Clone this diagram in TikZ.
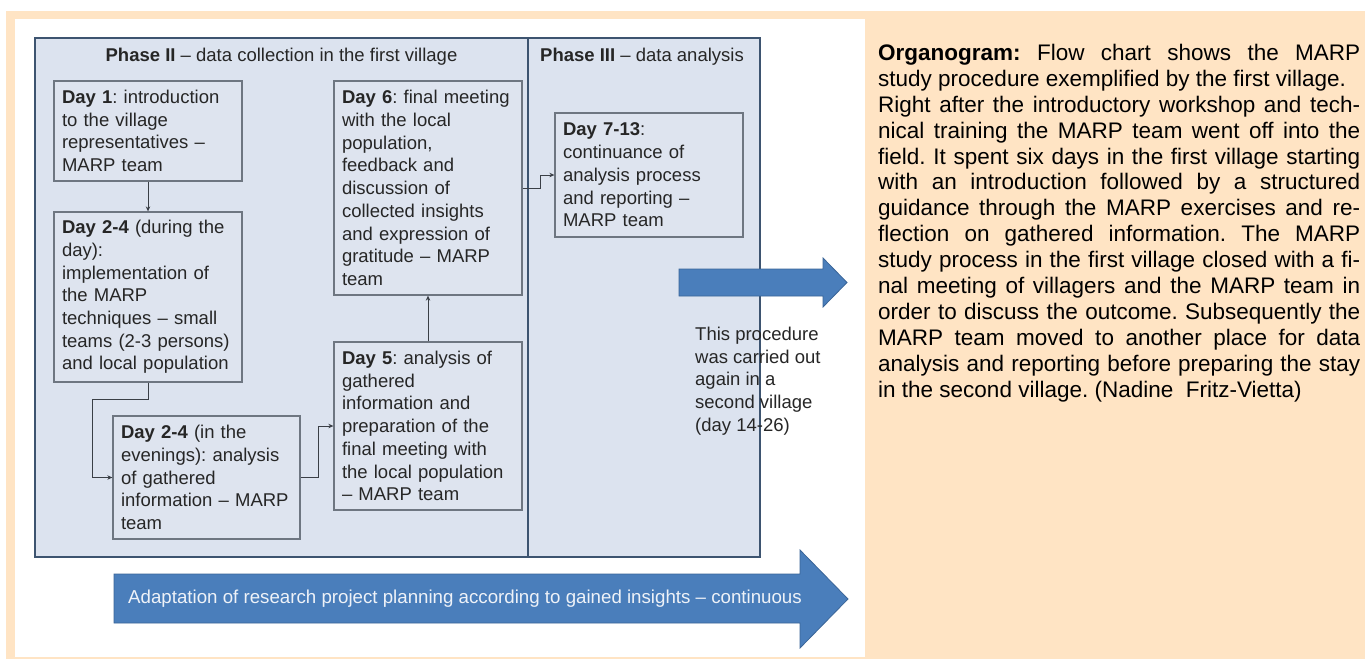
\documentclass[tikz,border=0pt]{standalone}
\usepackage{fontspec}
\setmainfont{Liberation Sans}
\usetikzlibrary{arrows.meta}
\frenchspacing
\definecolor{peach}{HTML}{FFE4C4}
\definecolor{phasefill}{HTML}{DCE3EF}
\definecolor{dayfill}{HTML}{DEE4EF}
\definecolor{frameline}{HTML}{3D5470}
\definecolor{innerline}{HTML}{6E7681}
\definecolor{connline}{HTML}{3A3F46}
\definecolor{txtgray}{HTML}{262626}
\definecolor{arrowblue}{HTML}{4A7EBB}
\definecolor{arrowedge}{HTML}{3A6598}
\definecolor{arrowtext}{HTML}{EEF2F8}
\newcommand{\daytext}{\fontsize{18.5}{22.7}\selectfont}
\begin{document}
\begin{tikzpicture}[x=1pt,y=-1pt,
  phasebox/.style={draw=frameline, line width=2pt, fill=phasefill, inner sep=0pt},
  daybox/.style={draw=innerline, line width=1.3pt, fill=dayfill, inner xsep=8pt, inner ysep=0pt,
    align=left, font=\daytext, text=txtgray, text width=172pt},
  titletext/.style={font=\daytext, text=txtgray, inner sep=0pt},
  conn/.style={draw=connline, line width=1pt, -{Stealth[length=5pt,width=4.5pt]}},
  blockarrow/.style={fill=arrowblue, draw=arrowedge, line width=0.8pt},
]
\useasboundingbox (0,0) rectangle (1365,659);
\fill[white] (0,0) rectangle (1365,659);
\fill[peach] (6,11) rectangle (1365,659);
\fill[white] (15,19) rectangle (865,657);

% phase containers
\node[phasebox, minimum width=493pt, minimum height=519pt] (p2) at (281.5,297.5) {};
\node[phasebox, minimum width=232pt, minimum height=519pt] (p3) at (644,297.5) {};
\node[titletext] (p2t) at (281.5,57) {\textbf{Phase II} – data collection in the first village};
\node[titletext] (p3t) at (642,57) {\textbf{Phase III} – data analysis};

% day boxes
\node[daybox, minimum height=100pt] (d1) at (148,131)
  {\textbf{Day 1}: introduction\\ to the village\\ representatives –\\ MARP team};
\node[daybox, minimum height=170pt] (d2) at (148,297)
  {\textbf{Day 2-4} (during the\\ day):\\ implementation of\\ the MARP\\ techniques – small\\ teams (2-3 persons)\\ and local population};
\node[daybox, minimum height=123pt, text width=171pt] (d3) at (206.5,477.5)
  {\textbf{Day 2-4} (in the\\ evenings): analysis\\ of gathered\\ information – MARP\\ team};
\node[daybox, minimum height=168pt] (d5) at (428,426)
  {\textbf{Day 5}: analysis of\\ gathered\\ information and\\ preparation of the\\ final meeting with\\ the local population\\ – MARP team};
\node[daybox, minimum height=214pt] (d6) at (428,188)
  {\textbf{Day 6}: final meeting\\ with the local\\ population,\\ feedback and\\ discussion of\\ collected insights\\ and expression of\\ gratitude – MARP\\ team};
\node[daybox, minimum height=124pt] (d7) at (649,175)
  {\textbf{Day 7-13}:\\ continuance of\\ analysis process\\ and reporting –\\ MARP team};

% connectors
\coordinate (k1) at (148,399);
\coordinate (k2) at (92,399);
\coordinate (k3) at (318,477.5);
\coordinate (k4) at (540,188);
\draw[conn] (d1.south) -- (d2.north);
\draw[conn] (d2.south) -- (k1) -- (k2) |- (d3.west);
\draw[conn] (d3.east) -- (k3) |- (d5.west);
\draw[conn] (d5.north) -- (d6.south);
\draw[conn] (d6.east) -- (k4) |- (d7.west);

% side note
\node[font=\daytext, text=txtgray, align=left, anchor=west, inner sep=0pt] (note) at (695,381)
  {This procedure\\ was carried out\\ again in a\\ second village\\ (day 14-26)};

% small block arrow
\path[blockarrow] (679,269) -- (823,269) -- (823,258) -- (847,282.5) -- (823,307) -- (823,296) -- (679,296) -- cycle;

% bottom block arrow
\path[blockarrow] (114,574) -- (800,574) -- (800,550) -- (848,599) -- (800,648) -- (800,623) -- (114,623) -- cycle;
\node[font=\fontsize{18.7}{22}\selectfont, text=arrowtext, anchor=west, inner sep=0pt] (adapt) at (128,599)
  {Adaptation of research project planning according to gained insights – continuous};

% caption paragraph
\node[anchor=west, inner sep=0pt, text width=482pt, align=justify,
  font=\fontsize{22.5}{25.9}\selectfont, text=black] (caption) at (878,223)
  {\hyphenpenalty=10000\parindent=0pt
   \textbf{Organogram:} Flow chart shows the MARP\linebreak
   study procedure exemplified by the first village.\\
   Right after the introductory workshop and tech-\linebreak
   nical training the MARP team went off into the\linebreak
   field. It spent six days in the first village starting\linebreak
   with an introduction followed by a structured\linebreak
   guidance through the MARP exercises and re-\linebreak
   flection on gathered information. The MARP\linebreak
   study process in the first village closed with a fi-\linebreak
   nal meeting of villagers and the MARP team in\linebreak
   order to discuss the outcome. Subsequently the\linebreak
   MARP team moved to another place for data\linebreak
   analysis and reporting before preparing the stay\linebreak
   in the second village. (Nadine\ \ Fritz-Vietta)};
\end{tikzpicture}
\end{document}
